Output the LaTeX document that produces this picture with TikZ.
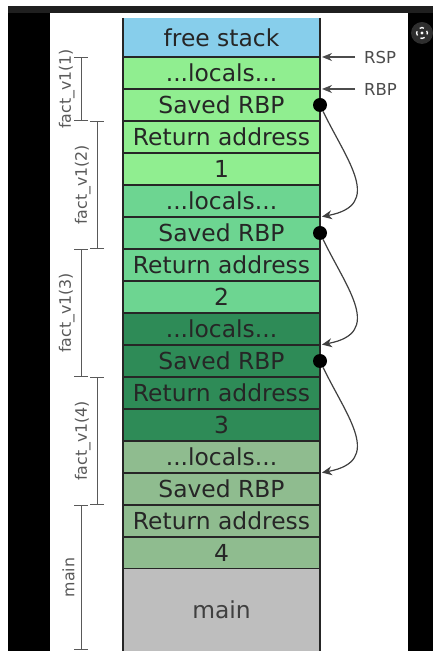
\documentclass[tikz,border=0pt]{standalone}
\usepackage{fontspec}
\setmainfont{DejaVu Sans}
\usepackage{tikz}
\usetikzlibrary{positioning,arrows.meta}
\definecolor{freeblue}{HTML}{87CEEB}
\definecolor{frameA}{HTML}{90EE90}
\definecolor{frameB}{HTML}{6DD591}
\definecolor{frameC}{HTML}{2E8B57}
\definecolor{frameD}{HTML}{8FBC8F}
\definecolor{mainbg}{HTML}{BEBEBE}
\definecolor{topbar}{HTML}{1F1F1F}
\definecolor{lensgray}{HTML}{2E2E2E}
\newcommand{\cellfont}{\fontsize{23.4}{27}\selectfont}
\newcommand{\tagfont}{\fontsize{15.8}{18}\selectfont}
\newcommand{\regfont}{\fontsize{16.5}{19}\selectfont}
\tikzstyle{cell} = [rectangle, draw=black!85, line width=2pt, minimum width=197pt, minimum height=32pt, inner sep=0pt, outer sep=0pt, font=\cellfont, text=black!85]
\tikzstyle{opencell} = [cell, draw=none]
\tikzstyle{side} = [black!85, line width=2pt]
\tikzstyle{span} = [black!65, line width=1pt, {Bar[width=14pt]}-{Bar[width=14pt]}]
\tikzstyle{spanlabel} = [midway, anchor=south, rotate=90, inner sep=3pt, inner ysep=6pt, font=\tagfont, text=black!65]
\tikzstyle{reglabel} = [inner xsep=9pt, inner ysep=2pt, font=\regfont, text=black!70]
\tikzstyle{ptr} = [black!70, line width=1.5pt, -{Stealth[length=10pt, width=8pt]}, shorten >=2pt]
\tikzstyle{dot} = [circle, fill=black, minimum size=14pt, inner sep=0pt]
\tikzstyle{link} = [black!75, line width=1.2pt, -{Stealth[length=10pt, width=9pt]}, shorten >=2pt]

\begin{document}
\begin{tikzpicture}[x=1pt, y=1pt]
\useasboundingbox (0,0) rectangle (433,651);
\clip (0,0) rectangle (433,651);
% screen around the figure
\fill[white] (0,0) rectangle (433,651);
\fill[black] (8,0) rectangle (50,638);
\fill[black] (408,0) rectangle (433,638);
\fill[topbar] (8,638) rectangle (433,645);
\fill[lensgray] (422,618) circle (11);
\draw[white, line width=1.3pt, dash pattern=on 4.5pt off 4.1pt, dash phase=2.2pt] (422,618) circle (5.5);
\fill[white] (422,618) circle (1.6);

% the stack
\node[opencell, fill=freeblue, minimum height=39pt] (free) at (221.5,613.5) {free stack};
\node[cell, fill=frameA, below=0pt of free] (loc1) {...locals...};
\node[cell, fill=frameA, below=0pt of loc1] (rbp1) {Saved RBP};
\node[cell, fill=frameA, below=0pt of rbp1] (ret1) {Return address};
\node[cell, fill=frameA, below=0pt of ret1] (arg1) {1};
\node[cell, fill=frameB, below=0pt of arg1] (loc2) {...locals...};
\node[cell, fill=frameB, below=0pt of loc2] (rbp2) {Saved RBP};
\node[cell, fill=frameB, below=0pt of rbp2] (ret2) {Return address};
\node[cell, fill=frameB, below=0pt of ret2] (arg2) {2};
\node[cell, fill=frameC, below=0pt of arg2] (loc3) {...locals...};
\node[cell, fill=frameC, below=0pt of loc3] (rbp3) {Saved RBP};
\node[cell, fill=frameC, below=0pt of rbp3] (ret3) {Return address};
\node[cell, fill=frameC, below=0pt of ret3] (arg3) {3};
\node[cell, fill=frameD, below=0pt of arg3] (loc4) {...locals...};
\node[cell, fill=frameD, below=0pt of loc4] (rbp4) {Saved RBP};
\node[cell, fill=frameD, below=0pt of rbp4] (ret4) {Return address};
\node[cell, fill=frameD, below=0pt of ret4] (arg4) {4};
\node[opencell, fill=mainbg, minimum height=82pt, text=black!75, below=0pt of arg4] (main) {main};
\draw[side] (free.north west) -- (free.south west) (free.north east) -- (free.south east);
\draw[side] (main.north west) -- (main.south west) (main.north east) -- (main.south east);

% frame spans
\coordinate (oddx) at (81,0);
\coordinate (evenx) at (97,0);
\coordinate (floor) at (0,1);
\draw[span] (loc1.north -| oddx) -- node[spanlabel] {fact\_v1(1)} (rbp1.south -| oddx);
\draw[span] (ret1.north -| evenx) -- node[spanlabel] {fact\_v1(2)} (rbp2.south -| evenx);
\draw[span] (ret2.north -| oddx) -- node[spanlabel] {fact\_v1(3)} (rbp3.south -| oddx);
\draw[span] (ret3.north -| evenx) -- node[spanlabel] {fact\_v1(4)} (rbp4.south -| evenx);
\draw[span] (ret4.north -| oddx) -- node[spanlabel] {main} (floor -| oddx);

% registers
\node[reglabel, right=35pt of free.south east] (rsp) {RSP};
\node[reglabel, right=35pt of loc1.south east] (rbp) {RBP};
\draw[ptr] (rsp) -- (free.south east);
\draw[ptr] (rbp) -- (loc1.south east);

% saved frame pointers
\node[dot] (d1) at (rbp1.east) {};
\node[dot] (d2) at (rbp2.east) {};
\node[dot] (d3) at (rbp3.east) {};
\draw[link] (d1) .. controls +(27pt,-56pt) and +(64pt,12pt) .. (rbp2.north east);
\draw[link] (d2) .. controls +(27pt,-56pt) and +(64pt,12pt) .. (rbp3.north east);
\draw[link] (d3) .. controls +(27pt,-56pt) and +(64pt,12pt) .. (rbp4.north east);
\end{tikzpicture}
\end{document}
